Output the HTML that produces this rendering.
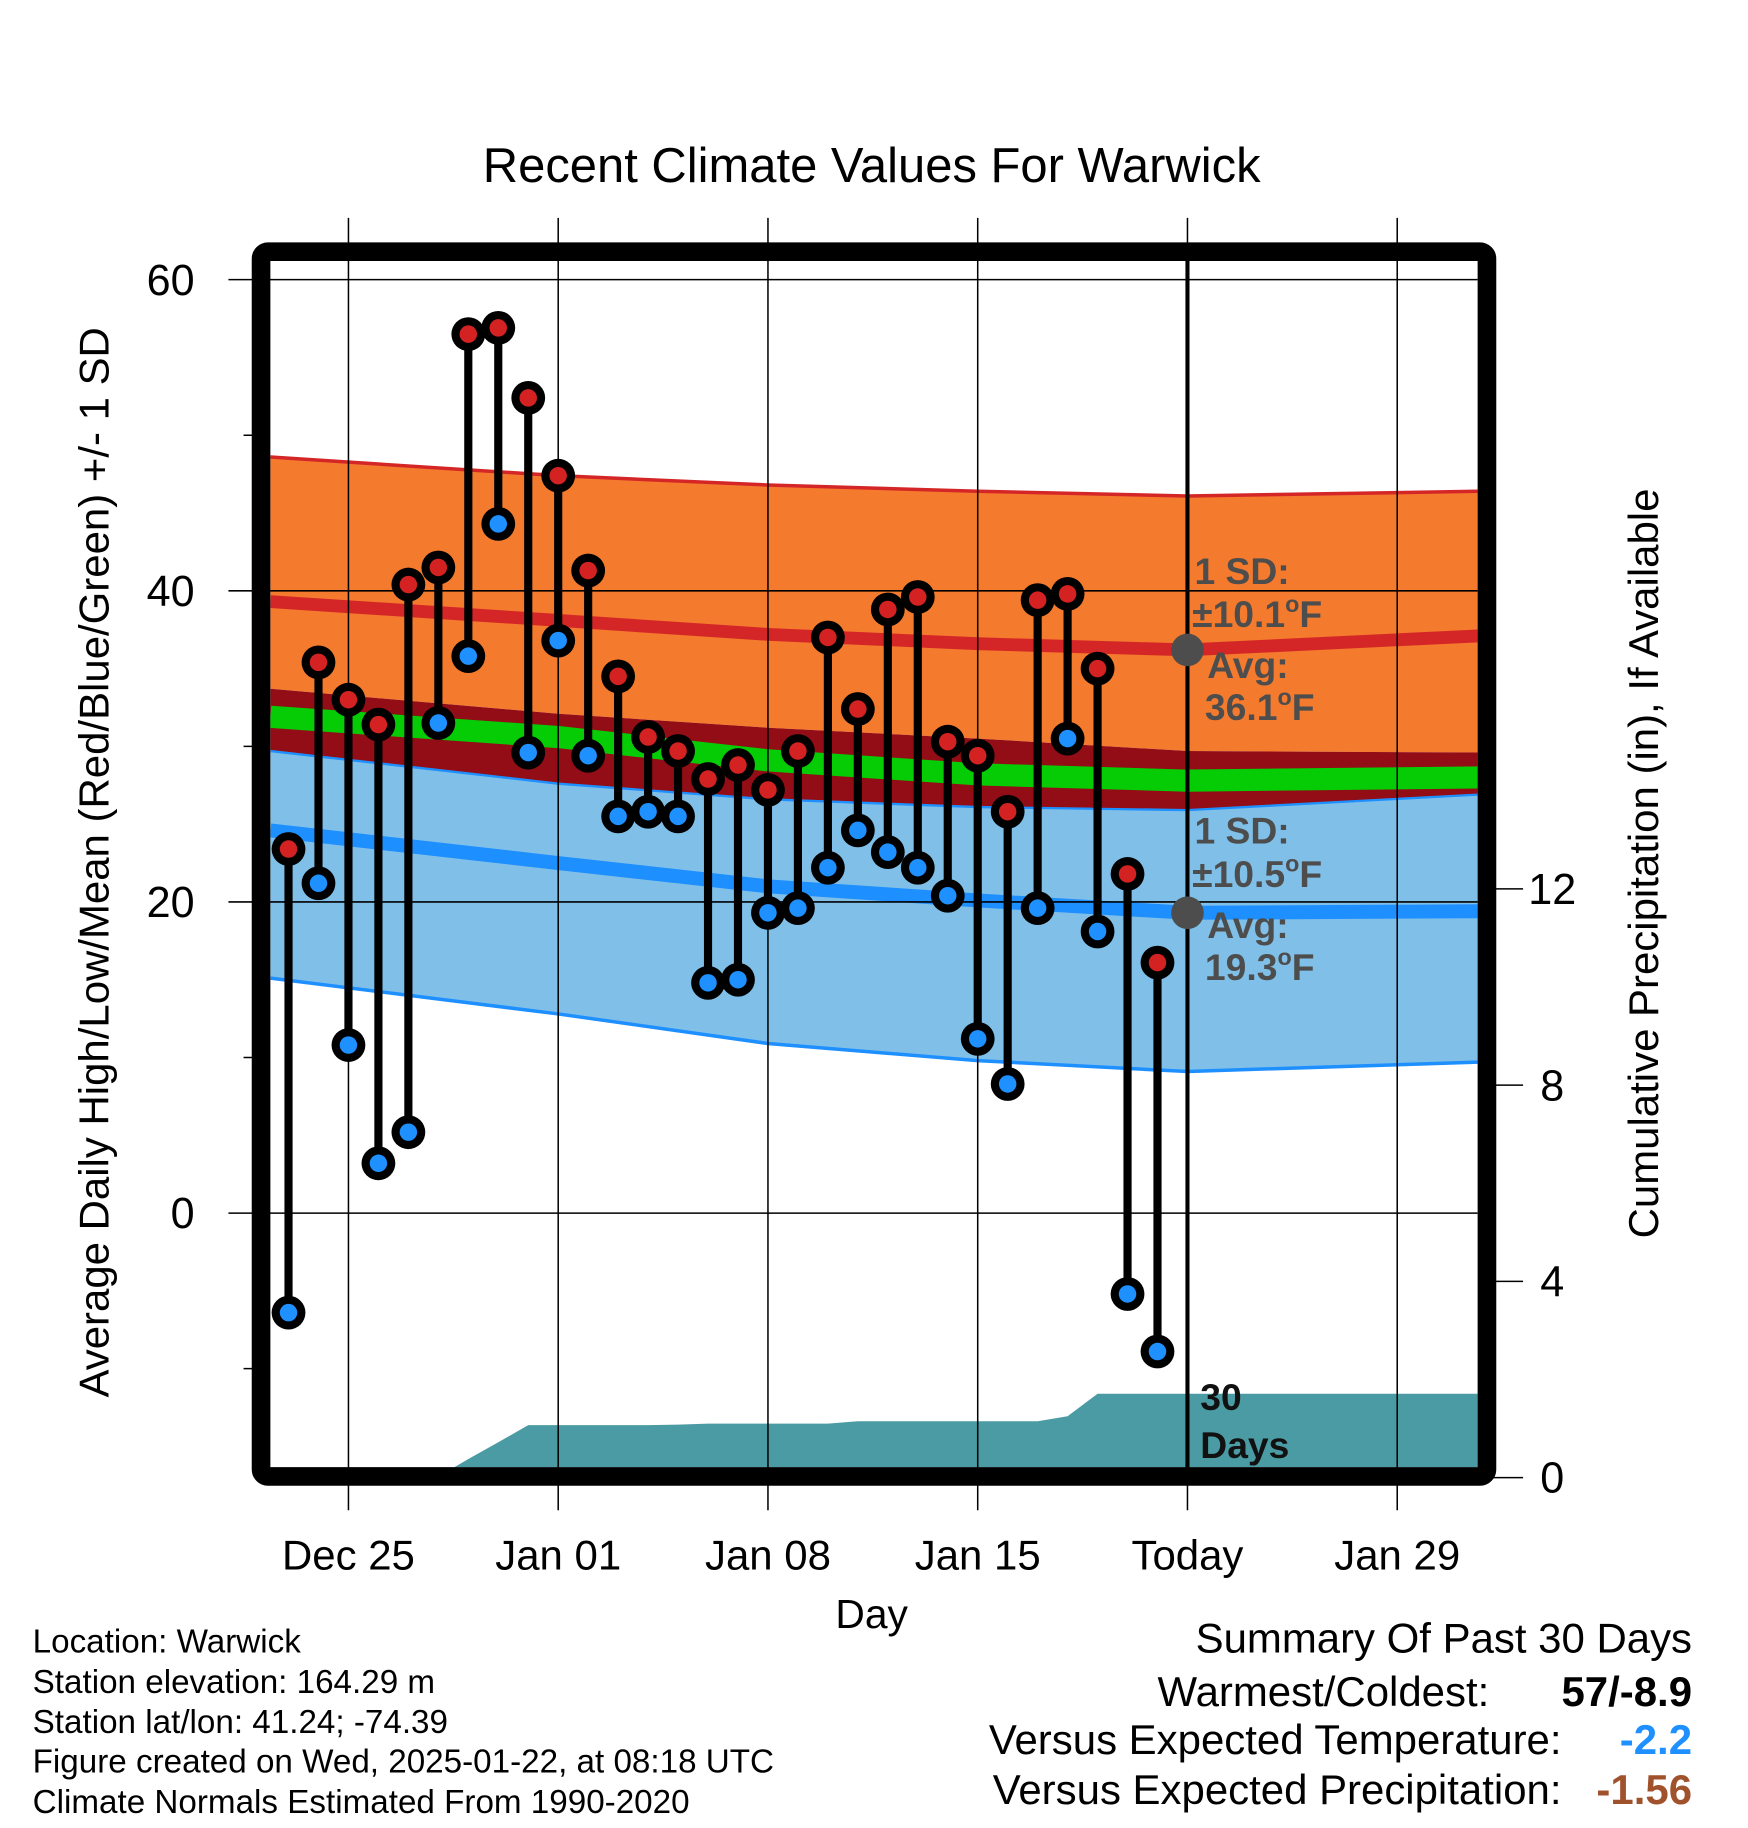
<!DOCTYPE html>
<html><head><meta charset="utf-8"><style>
html,body{margin:0;padding:0;background:#fff}
svg{display:block;font-family:"Liberation Sans",Arial,sans-serif}
</style></head><body>
<svg id="chart" width="1748" height="1828" viewBox="0 0 1500 1568.7" xmlns="http://www.w3.org/2000/svg">
<defs><clipPath id="plotclip"><rect x="232" y="224" width="1036" height="1035"/></clipPath></defs>
<g id="bands" clip-path="url(#plotclip)"></g>
<g id="grid"></g>
<g id="marks"></g>
<rect x="224" y="216" width="1052" height="1051" rx="6" fill="none" stroke="#000" stroke-width="16"/>
<g id="labels"></g>
<text x="748" y="156" font-size="42" text-anchor="middle">Recent Climate Values For Warwick</text>
<text x="748" y="1397" font-size="35" text-anchor="middle">Day</text>
<text transform="translate(93,740) rotate(-90)" font-size="36" text-anchor="middle">Average Daily High/Low/Mean (Red/Blue/Green) +/- 1 SD</text>
<text transform="translate(1423,741) rotate(-90)" font-size="36" text-anchor="middle">Cumulative Precipitation (in), If Available</text>
<text font-size="32" font-weight="bold" fill="#111"><tspan x="1030" y="1210">30</tspan><tspan x="1030" y="1251">Days</tspan></text>
<g font-size="32" font-weight="bold" fill="#4d4d4d">
<text x="1025" y="501">1 SD:</text>
<text x="1023" y="538">±10.1<tspan font-size="20" dy="-13">o</tspan><tspan dy="13">F</tspan></text>
<text x="1036" y="582">Avg:</text>
<text x="1034" y="618">36.1<tspan font-size="20" dy="-13">o</tspan><tspan dy="13">F</tspan></text>
</g>
<g font-size="32" font-weight="bold" fill="#4d4d4d">
<text x="1025" y="724">1 SD:</text>
<text x="1023" y="761">±10.5<tspan font-size="20" dy="-13">o</tspan><tspan dy="13">F</tspan></text>
<text x="1036" y="805">Avg:</text>
<text x="1034" y="841">19.3<tspan font-size="20" dy="-13">o</tspan><tspan dy="13">F</tspan></text>
</g>
<g font-size="28.5">
<text x="28" y="1418">Location: Warwick</text>
<text x="28" y="1453">Station elevation: 164.29 m</text>
<text x="28" y="1487">Station lat/lon: 41.24; -74.39</text>
<text x="28" y="1521">Figure created on Wed, 2025-01-22, at 08:18 UTC</text>
<text x="28" y="1556">Climate Normals Estimated From 1990-2020</text>
</g>
<g font-size="36">
<text x="1452" y="1418" text-anchor="end">Summary Of Past 30 Days</text>
<text x="1278" y="1464" text-anchor="end">Warmest/Coldest:</text>
<text x="1452" y="1464" text-anchor="end" font-weight="bold">57/-8.9</text>
<text x="1340" y="1505" text-anchor="end">Versus Expected Temperature:</text>
<text x="1452" y="1505" text-anchor="end" font-weight="bold" fill="#1e90ff">-2.2</text>
<text x="1340" y="1548" text-anchor="end">Versus Expected Precipitation:</text>
<text x="1452" y="1548" text-anchor="end" font-weight="bold" fill="#a0522d">-1.56</text>
</g>
</svg>
<script>
// ---- data ----
const obsDays = [-2,-1,0,1,2,3,4,5,6,7,8,9,10,11,12,13,14,15,16,17,18,19,20,21,22,23,24,25,26,27];
const highs = [23.4,35.4,33.0,31.4,40.4,41.5,56.5,56.9,52.4,47.4,41.3,34.5,30.6,29.7,27.9,28.8,27.2,29.7,37.0,32.4,38.8,39.6,30.3,29.4,25.8,39.4,39.8,35.0,21.8,16.1];
const lows = [-6.4,21.2,10.8,3.2,5.2,31.5,35.8,44.3,29.6,36.8,29.4,25.5,25.8,25.5,14.8,15.0,19.3,19.6,22.2,24.6,23.2,22.2,20.4,11.2,8.3,19.6,30.5,18.1,-5.2,-8.9];
const precip = [0,0,0,0,0,0.02,0.38,0.72,1.07,1.07,1.07,1.07,1.07,1.08,1.1,1.1,1.1,1.1,1.1,1.15,1.15,1.15,1.15,1.15,1.15,1.15,1.25,1.71,1.71,1.71];
const normDays = [-2.6,7,14,21,28,37.7];
const highSdTop = [48.6,47.4,46.8,46.4,46.1,46.4];
const highMean = [39.3,38.1,37.2,36.6,36.2,37.1];
const highSdBottom = [33.7,32.1,31.2,30.5,29.7,29.6];
const meanTemp = [31.9,30.6,29.1,28.2,27.8,28.0];
const lowSdTop = [29.7,27.6,26.6,26.1,25.9,26.9];
const lowMean = [24.6,22.5,21.0,20.1,19.3,19.4];
const lowSdBottom = [15.1,12.8,10.9,9.8,9.1,9.7];
const yTicks = [0,20,40,60];
const yMinor = [-10,10,30,50];
const y2Ticks = [0,4,8,12];
const xTickDays = [0,7,14,21,28,35];
const xTickLabels = ["Dec 25","Jan 01","Jan 08","Jan 15","Today","Jan 29"];
const todayDay = 28;
// ---- axes ----
const X = d => 299 + d*180/7;
const Y = v => 1041 - v*(1041-240)/60;
const Y2 = p => 1268 - p*42.1;
const NS = "http://www.w3.org/2000/svg";
function mk(tag, attrs, parent){const e=document.createElementNS(NS,tag);for(const k in attrs)e.setAttribute(k,attrs[k]);parent.appendChild(e);return e;}
const bands=document.getElementById('bands'), grid=document.getElementById('grid'), marks=document.getElementById('marks'), labels=document.getElementById('labels');
function pts(days, vals){return days.map((d,i)=>X(d).toFixed(1)+','+Y(vals[i]).toFixed(1));}
function area(top,bot,fill,name){
  const p=pts(normDays,top).concat(pts(normDays,bot).reverse());
  const e=mk('polygon',{points:p.join(' '),fill:fill},bands);
  
  
}
function line(vals,color,w,name){
  const e=mk('polyline',{points:pts(normDays,vals).join(' '),fill:'none',stroke:color,'stroke-width':w},bands);
  
  
}
area(highSdTop,highSdBottom,'#f47a2e','high-sd-band');
line(highSdTop,'#d42626',3,'high-sd-top-line');
area(highSdBottom,lowSdTop,'#920d15','overlap-band');
area(lowSdTop,lowSdBottom,'#80c0e8','low-sd-band');
line(lowSdTop,'#1e8fff',2,'low-sd-top-line');
line(lowSdBottom,'#1e8fff',3,'low-sd-bottom-line');
line(highMean,'#d42626',11,'high-mean-line');
line(meanTemp,'#05cc05',19,'mean-temp-line');
line(lowMean,'#1e8fff',12,'low-mean-line');
// precipitation area
{
  const p=[X(obsDays[0])+','+1262];
  obsDays.forEach((d,i)=>p.push(X(d).toFixed(1)+','+Y2(precip[i]).toFixed(1)));
  p.push('1270,'+Y2(precip[precip.length-1]).toFixed(1));
  p.push('1270,1262');
  const e=mk('polygon',{points:p.join(' '),fill:'#4a9ba3'},bands);
  
  
}
// grid
xTickDays.forEach((d,i)=>{
  const e=mk('line',{x1:X(d),x2:X(d),y1:187,y2:1296,stroke:'#000','stroke-width':1.3},grid);
  
  
  const t=mk('text',{x:X(d),y:1347,'font-size':36,'text-anchor':'middle'},labels);
  t.textContent=xTickLabels[i];
  
  
});
yTicks.forEach(v=>{
  const e=mk('line',{x1:196,x2:1268,y1:Y(v),y2:Y(v),stroke:'#000','stroke-width':1.3},grid);
  
  
  const t=mk('text',{x:167,y:Y(v)+13,'font-size':37,'text-anchor':'end'},labels);
  t.textContent=v;
  
  
});
yMinor.forEach(v=>{
  const e=mk('line',{x1:209,x2:224,y1:Y(v),y2:Y(v),stroke:'#000','stroke-width':1.3},grid);
  
  
});
y2Ticks.forEach(p=>{
  const e=mk('line',{x1:1276,x2:1307,y1:Y2(p),y2:Y2(p),stroke:'#000','stroke-width':1.3},grid);
  
  
  const t=mk('text',{x:1332,y:Y2(p)+13,'font-size':37,'text-anchor':'middle'},labels);
  t.textContent=p;
  
  
});
{
  const e=mk('line',{x1:X(todayDay),x2:X(todayDay),y1:224,y2:1262,stroke:'#000','stroke-width':3.5},grid);
  
  
  const a=mk('circle',{cx:X(todayDay),cy:Y(highMean[4]),r:14,fill:'#4d4d4d'},grid);
  
  
  const b=mk('circle',{cx:X(todayDay),cy:Y(lowMean[4]),r:14,fill:'#4d4d4d'},grid);
  
  
}
// observations
obsDays.forEach((d,i)=>{
  const x=X(d);
  const s=mk('line',{x1:x,x2:x,y1:Y(highs[i]),y2:Y(lows[i]),stroke:'#000','stroke-width':7},marks);
  
  
  [[highs[i],'#d42222','high-point'],[lows[i],'#1e90ff','low-point']].forEach(([v,c,n])=>{
    const o=mk('circle',{cx:x,cy:Y(v),r:14.5,fill:'#000'},marks);
    
    
    const p=mk('circle',{cx:x,cy:Y(v),r:7.5,fill:c},marks);
    
    
  });
});
</script>
</body></html>
